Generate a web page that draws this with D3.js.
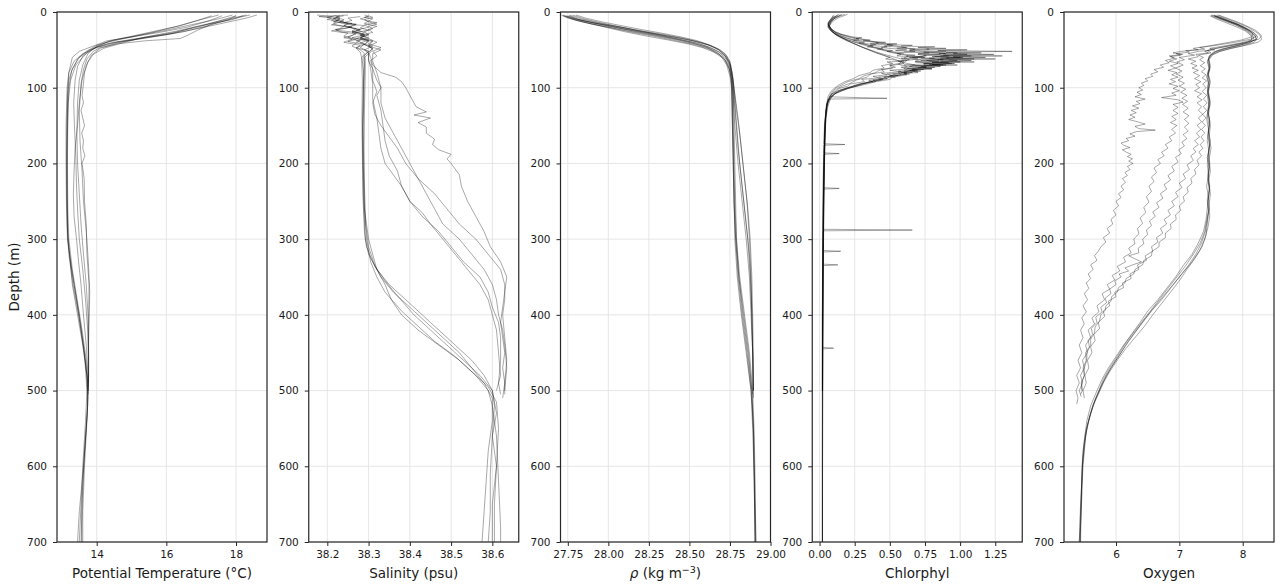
<!DOCTYPE html>
<html>
<head>
<meta charset="utf-8">
<script src="https://cdn.jsdelivr.net/npm/d3@7"></script>
<style>
  body { margin: 0; background: #fff; }
  text { font-family: "DejaVu Sans", sans-serif; fill: #1a1a1a; }
</style>
</head>
<body>
<svg id="chart" width="1285" height="585"></svg>
<script>
// ---- CTD cast profiles: each profile is a list of [depth (m), value] ----
const depthTicks = [0, 100, 200, 300, 400, 500, 600, 700];

const tempTicks = [14, 16, 18];
const tempProfiles = [
  [[4,18.6],[8,18.3],[15,17.6],[22,16.9],[30,16.0],[36,15.0],[42,14.3],[50,13.8],[60,13.5],[75,13.3],[90,13.2],[110,13.17],[150,13.15],[200,13.14],[250,13.15],[300,13.17],[330,13.25],[360,13.35],[400,13.5],[440,13.62],[480,13.72],[510,13.75],[550,13.7],[600,13.63],[650,13.58],[700,13.55]],
  [[5,18.0],[10,17.8],[18,17.2],[26,16.5],[33,15.6],[40,14.6],[47,14.0],[55,13.6],[65,13.35],[80,13.2],[100,13.15],[150,13.12],[200,13.12],[250,13.13],[300,13.16],[340,13.28],[380,13.42],[420,13.55],[460,13.66],[500,13.72],[540,13.68],[600,13.6],[650,13.55],[700,13.5]],
  [[4,18.3],[10,17.7],[20,16.8],[28,16.2],[35,15.3],[40,14.5],[46,14.0],[55,13.7],[70,13.4],[90,13.25],[120,13.18],[180,13.15],[240,13.15],[290,13.17],[320,13.22],[360,13.3],[400,13.45],[440,13.6],[480,13.72],[520,13.74],[580,13.65],[640,13.58],[700,13.57]],
  [[5,17.6],[12,17.2],[20,16.6],[27,15.8],[33,15.0],[38,14.3],[45,13.9],[52,13.5],[60,13.3],[80,13.2],[110,13.16],[160,13.14],[220,13.14],[280,13.15],[320,13.2],[360,13.32],[400,13.48],[450,13.65],[490,13.74],[530,13.73],[600,13.62],[660,13.5],[700,13.45]],
  [[4,17.9],[9,17.5],[17,16.7],[24,16.0],[31,15.2],[37,14.5],[44,14.0],[52,13.7],[62,13.45],[78,13.28],[100,13.2],[140,13.17],[200,13.16],[260,13.17],[300,13.2],[340,13.3],[380,13.44],[420,13.58],[460,13.7],[500,13.76],[540,13.72],[600,13.65],[660,13.6],[700,13.6]],
  [[5,18.2],[10,17.9],[18,17.0],[26,16.2],[33,15.4],[40,14.8],[48,14.2],[56,13.9],[66,13.75],[80,13.65],[95,13.62],[110,13.58],[120,13.62],[130,13.55],[140,13.6],[150,13.65],[160,13.57],[170,13.62],[180,13.6],[190,13.66],[200,13.58],[220,13.64],[250,13.65],[280,13.7],[320,13.72],[360,13.78],[400,13.77],[440,13.76],[480,13.77],[500,13.75]],
  [[4,17.5],[10,17.0],[18,16.4],[25,15.7],[32,15.0],[38,14.4],[45,14.0],[55,13.75],[70,13.6],[90,13.5],[120,13.45],[160,13.43],[200,13.45],[240,13.5],[280,13.55],[320,13.62],[360,13.7],[400,13.75],[450,13.77],[495,13.76]],
  [[5,18.0],[12,17.5],[20,16.9],[28,16.1],[34,15.3],[41,14.6],[48,14.1],[57,13.85],[70,13.7],[90,13.58],[120,13.5],[150,13.45],[180,13.38],[210,13.35],[240,13.33],[270,13.35],[300,13.42],[330,13.48],[360,13.55],[400,13.62],[440,13.7],[480,13.75],[505,13.76]],
  [[4,18.4],[9,17.9],[16,17.3],[24,16.9],[31,16.6],[35,16.4],[38,15.4],[42,14.6],[47,14.1],[52,13.9],[62,13.72],[76,13.62],[95,13.55],[130,13.5],[170,13.52],[210,13.58],[250,13.62],[290,13.7],[330,13.76],[370,13.8],[410,13.78],[450,13.76],[490,13.76]],
  [[5,17.3],[11,16.9],[19,16.3],[27,15.6],[34,14.9],[40,14.3],[48,13.9],[58,13.6],[72,13.45],[90,13.38],[120,13.34],[150,13.36],[190,13.4],[230,13.42],[260,13.45],[300,13.5],[340,13.6],[380,13.68],[420,13.74],[460,13.77],[500,13.76]]
];

const salTicks = [38.2, 38.3, 38.4, 38.5, 38.6];
const salProfiles = [
  [[5,38.22],[7,38.2],[10,38.23],[13,38.215],[15,38.26],[18,38.24],[21,38.25],[24,38.22],[27,38.27],[31,38.26],[34,38.24],[38,38.28],[41,38.27],[45,38.26],[50,38.28],[55,38.29],[60,38.284],[80,38.288],[120,38.287],[160,38.285],[200,38.286],[250,38.288],[300,38.292],[320,38.3],[340,38.32],[360,38.35],[380,38.39],[400,38.43],[420,38.47],[440,38.51],[460,38.55],[480,38.58],[500,38.6],[530,38.61],[560,38.6],[600,38.61],[650,38.6],[700,38.6]],
  [[4,38.25],[6,38.18],[8,38.21],[10,38.2],[12,38.24],[15,38.22],[17,38.21],[20,38.26],[23,38.22],[26,38.23],[29,38.27],[33,38.25],[36,38.26],[40,38.24],[44,38.28],[48,38.27],[53,38.28],[60,38.283],[90,38.285],[140,38.284],[190,38.285],[240,38.286],[290,38.29],[310,38.295],[330,38.31],[350,38.33],[370,38.36],[390,38.4],[410,38.44],[430,38.48],[450,38.52],[470,38.55],[490,38.58],[510,38.6],[540,38.6],[580,38.59],[620,38.585],[660,38.58],[700,38.575]],
  [[5,38.3],[7,38.29],[9,38.31],[12,38.3],[14,38.32],[17,38.29],[20,38.3],[24,38.27],[27,38.29],[30,38.28],[34,38.3],[38,38.27],[42,38.29],[47,38.28],[52,38.3],[58,38.288],[70,38.29],[100,38.289],[150,38.287],[200,38.288],[260,38.29],[300,38.295],[330,38.305],[350,38.32],[370,38.34],[395,38.38],[415,38.42],[435,38.46],[455,38.51],[475,38.55],[495,38.59],[515,38.61],[550,38.615],[600,38.61],[650,38.605],[700,38.605]],
  [[4,38.175],[6,38.21],[8,38.22],[11,38.21],[13,38.22],[16,38.215],[19,38.24],[22,38.23],[25,38.21],[28,38.25],[32,38.24],[36,38.27],[39,38.25],[43,38.29],[47,38.27],[52,38.3],[57,38.29],[62,38.292],[80,38.292],[130,38.29],[180,38.289],[230,38.29],[280,38.293],[310,38.3],[335,38.315],[355,38.34],[375,38.37],[400,38.41],[420,38.45],[440,38.49],[460,38.53],[480,38.57],[500,38.6],[520,38.605],[560,38.6],[610,38.595],[660,38.595],[700,38.59]],
  [[5,38.24],[7,38.22],[9,38.23],[12,38.22],[15,38.235],[18,38.29],[21,38.28],[24,38.3],[27,38.27],[30,38.29],[34,38.26],[37,38.3],[41,38.28],[45,38.31],[50,38.29],[55,38.3],[60,38.29],[90,38.288],[140,38.286],[200,38.287],[260,38.29],[300,38.3],[320,38.31],[340,38.32],[360,38.34],[380,38.355],[400,38.38],[420,38.42],[440,38.47],[460,38.52],[480,38.56],[500,38.59],[520,38.6],[560,38.61],[620,38.615],[680,38.62],[700,38.62]],
  [[5,38.3],[7,38.31],[10,38.29],[13,38.3],[16,38.32],[19,38.3],[22,38.31],[26,38.29],[30,38.3],[34,38.28],[38,38.3],[43,38.29],[48,38.31],[54,38.3],[60,38.305],[70,38.31],[80,38.33],[86,38.365],[92,38.38],[100,38.39],[110,38.4],[125,38.415],[132,38.44],[136,38.41],[140,38.45],[146,38.42],[152,38.44],[160,38.44],[168,38.46],[175,38.455],[182,38.47],[188,38.5],[194,38.49],[200,38.5],[215,38.52],[230,38.525],[250,38.54],[270,38.56],[290,38.58],[310,38.595],[330,38.62],[350,38.635],[370,38.63],[390,38.625],[410,38.62],[430,38.625],[450,38.63],[470,38.625],[490,38.63],[505,38.63]],
  [[5,38.22],[7,38.23],[9,38.215],[12,38.23],[15,38.25],[18,38.24],[22,38.27],[25,38.26],[28,38.28],[31,38.29],[35,38.27],[39,38.3],[43,38.29],[48,38.31],[53,38.3],[60,38.3],[65,38.3],[75,38.31],[90,38.31],[105,38.32],[120,38.31],[135,38.315],[150,38.33],[165,38.35],[180,38.37],[200,38.39],[220,38.42],[240,38.46],[260,38.49],[280,38.52],[300,38.56],[320,38.59],[340,38.62],[360,38.63],[380,38.63],[400,38.625],[430,38.63],[460,38.635],[490,38.63],[510,38.625]],
  [[6,38.28],[8,38.25],[11,38.26],[14,38.24],[17,38.27],[20,38.25],[24,38.28],[27,38.26],[31,38.29],[35,38.28],[39,38.31],[44,38.3],[50,38.31],[56,38.3],[62,38.3],[75,38.305],[95,38.31],[115,38.31],[140,38.32],[160,38.325],[180,38.33],[200,38.34],[215,38.36],[230,38.38],[250,38.4],[265,38.43],[280,38.45],[300,38.48],[320,38.51],[340,38.54],[360,38.57],[380,38.59],[400,38.6],[420,38.61],[450,38.615],[480,38.62],[500,38.61]],
  [[5,38.23],[7,38.22],[10,38.24],[13,38.23],[16,38.27],[20,38.25],[23,38.28],[26,38.26],[30,38.3],[34,38.28],[38,38.31],[42,38.3],[47,38.33],[52,38.31],[58,38.32],[64,38.305],[75,38.31],[90,38.32],[100,38.33],[110,38.32],[130,38.33],[150,38.335],[170,38.34],[190,38.35],[210,38.37],[230,38.38],[250,38.4],[270,38.43],[290,38.47],[310,38.5],[330,38.53],[350,38.57],[370,38.59],[390,38.6],[410,38.615],[430,38.62],[460,38.62],[490,38.615],[505,38.62]],
  [[4,38.29],[6,38.3],[9,38.28],[12,38.3],[15,38.29],[19,38.32],[23,38.3],[27,38.31],[31,38.28],[35,38.3],[40,38.32],[45,38.3],[50,38.33],[55,38.31],[62,38.31],[65,38.31],[80,38.32],[100,38.33],[120,38.33],[140,38.34],[160,38.36],[180,38.38],[200,38.4],[220,38.42],[240,38.44],[260,38.46],[280,38.48],[300,38.52],[320,38.55],[340,38.58],[360,38.6],[380,38.61],[400,38.615],[420,38.625],[440,38.63],[470,38.635],[500,38.63]]
];

const rhoTicks = [27.75, 28.0, 28.25, 28.5, 28.75, 29.0];
const rhoProfiles = [
  [[4,27.72],[8,27.77],[12,27.86],[16,27.96],[20,28.08],[25,28.21],[30,28.35],[35,28.47],[40,28.57],[45,28.64],[50,28.69],[58,28.73],[70,28.755],[85,28.765],[100,28.77],[150,28.775],[200,28.78],[250,28.785],[300,28.79],[350,28.805],[400,28.83],[450,28.86],[500,28.885],[550,28.895],[600,28.9],[650,28.905],[700,28.91]],
  [[5,27.75],[9,27.8],[13,27.88],[18,28.0],[23,28.12],[28,28.26],[33,28.4],[38,28.52],[43,28.61],[48,28.67],[55,28.72],[65,28.75],[80,28.76],[100,28.765],[150,28.77],[200,28.775],[250,28.78],[300,28.79],[350,28.81],[400,28.84],[450,28.87],[500,28.89],[560,28.9],[620,28.905],[700,28.91]],
  [[4,27.76],[9,27.83],[14,27.93],[19,28.05],[24,28.17],[29,28.3],[34,28.43],[39,28.54],[44,28.62],[50,28.68],[57,28.72],[66,28.745],[80,28.755],[100,28.76],[150,28.765],[200,28.77],[250,28.775],[300,28.785],[350,28.8],[400,28.825],[450,28.855],[500,28.88],[550,28.895],[620,28.9],[700,28.905]],
  [[5,27.73],[10,27.79],[15,27.88],[20,27.98],[26,28.1],[32,28.24],[37,28.37],[42,28.49],[47,28.58],[53,28.65],[60,28.7],[70,28.73],[85,28.75],[100,28.76],[150,28.765],[200,28.77],[250,28.775],[300,28.785],[350,28.805],[400,28.835],[450,28.865],[500,28.885],[560,28.895],[630,28.9],[700,28.905]],
  [[4,27.71],[8,27.75],[13,27.84],[18,27.95],[23,28.07],[28,28.2],[33,28.33],[38,28.45],[43,28.55],[48,28.62],[55,28.68],[63,28.72],[75,28.745],[90,28.76],[120,28.765],[180,28.77],[240,28.775],[300,28.78],[350,28.795],[400,28.82],[450,28.85],[500,28.88],[550,28.89],[620,28.9],[700,28.905]],
  [[5,27.74],[10,27.81],[15,27.91],[20,28.03],[25,28.16],[30,28.29],[35,28.41],[40,28.52],[45,28.6],[51,28.67],[58,28.72],[68,28.75],[80,28.765],[100,28.775],[130,28.79],[160,28.81],[200,28.83],[250,28.855],[300,28.87],[350,28.88],[400,28.885],[450,28.89],[500,28.895]],
  [[4,27.78],[9,27.85],[14,27.95],[19,28.06],[25,28.19],[30,28.31],[36,28.44],[41,28.55],[47,28.63],[53,28.68],[60,28.72],[72,28.75],[90,28.77],[120,28.78],[160,28.795],[200,28.81],[240,28.83],[280,28.85],[320,28.87],[360,28.88],[400,28.885],[450,28.89],[505,28.89]],
  [[5,27.72],[11,27.8],[16,27.9],[21,28.02],[27,28.15],[32,28.28],[38,28.42],[43,28.53],[49,28.62],[56,28.68],[64,28.72],[75,28.745],[90,28.76],[110,28.77],[150,28.78],[200,28.8],[250,28.825],[300,28.85],[350,28.87],[400,28.88],[450,28.89],[500,28.895]],
  [[4,27.8],[8,27.86],[13,27.96],[18,28.08],[23,28.2],[28,28.33],[33,28.45],[38,28.55],[44,28.63],[50,28.68],[58,28.72],[70,28.75],[85,28.765],[100,28.775],[140,28.8],[180,28.82],[220,28.84],[260,28.86],[300,28.875],[350,28.885],[400,28.89],[460,28.895],[500,28.895]],
  [[5,27.76],[10,27.82],[15,27.92],[20,28.04],[26,28.17],[31,28.3],[36,28.42],[41,28.52],[46,28.6],[52,28.66],[60,28.71],[70,28.74],[85,28.76],[100,28.77],[140,28.785],[180,28.8],[220,28.82],[260,28.84],[300,28.86],[350,28.875],[400,28.885],[450,28.89],[510,28.895]]
];

const chlTicks = [0, 0.25, 0.5, 0.75, 1.0, 1.25];
const chlProfiles = [
  [[3,0.14],[7,0.1],[12,0.07],[17,0.06],[22,0.08],[26,0.11],[29,0.15],[31,0.19],[33,0.24],[34,0.3],[35,0.26],[37,0.36],[38,0.31],[40,0.47],[41,0.4],[42,0.55],[43,0.48],[44,0.66],[45,0.58],[46,0.82],[47,0.7],[48,0.9],[49,0.76],[50,1.05],[51,0.84],[52,1.37],[53,0.9],[54,1.15],[55,0.95],[56,1.24],[57,0.86],[58,1.08],[59,0.82],[60,1.0],[61,0.78],[62,0.92],[64,0.72],[65,0.85],[66,0.68],[68,0.8],[70,0.6],[71,0.72],[73,0.58],[75,0.64],[77,0.5],[79,0.58],[81,0.44],[83,0.48],[85,0.38],[87,0.42],[89,0.3],[92,0.32],[95,0.22],[98,0.2],[101,0.14],[104,0.12],[108,0.09],[114,0.07],[122,0.05],[135,0.045],[150,0.035],[174,0.03],[175,0.18],[176,0.03],[230,0.025],[300,0.022],[400,0.02],[500,0.02],[600,0.02],[700,0.02]],
  [[4,0.1],[9,0.08],[14,0.06],[19,0.07],[24,0.09],[28,0.12],[31,0.17],[34,0.22],[36,0.28],[37,0.24],[39,0.35],[41,0.42],[42,0.36],[44,0.52],[45,0.46],[47,0.62],[48,0.55],[49,0.78],[50,0.64],[51,0.72],[52,0.9],[53,0.74],[54,0.98],[55,0.85],[56,1.05],[57,0.88],[58,1.3],[59,0.95],[60,1.18],[61,0.9],[62,1.1],[63,0.84],[64,0.98],[66,0.78],[67,0.92],[68,0.74],[70,0.86],[71,0.68],[73,0.76],[74,0.62],[76,0.7],[78,0.56],[80,0.62],[82,0.48],[84,0.52],[86,0.42],[88,0.45],[90,0.35],[92,0.38],[95,0.28],[98,0.24],[101,0.18],[104,0.13],[108,0.09],[112,0.07],[120,0.055],[140,0.04],[160,0.035],[186,0.03],[187,0.14],[188,0.03],[250,0.025],[320,0.022],[400,0.02],[500,0.02]],
  [[3,0.18],[7,0.12],[12,0.08],[18,0.06],[23,0.07],[27,0.1],[31,0.14],[35,0.2],[38,0.27],[40,0.32],[41,0.28],[43,0.4],[44,0.36],[46,0.48],[47,0.44],[49,0.56],[50,0.62],[51,0.54],[52,0.68],[53,0.6],[54,0.78],[55,0.7],[56,0.86],[57,0.74],[58,0.92],[59,0.8],[60,1.02],[61,0.86],[62,1.25],[63,0.92],[64,1.08],[65,0.86],[66,1.0],[67,0.8],[68,0.94],[69,0.78],[70,0.88],[72,0.72],[73,0.82],[75,0.66],[76,0.74],[78,0.6],[80,0.66],[82,0.52],[84,0.56],[86,0.46],[88,0.48],[90,0.38],[92,0.4],[95,0.3],[98,0.26],[101,0.2],[104,0.16],[107,0.12],[112,0.08],[118,0.06],[130,0.045],[150,0.04],[180,0.035],[232,0.028],[233,0.14],[234,0.028],[300,0.024],[400,0.022],[500,0.02],[600,0.02],[700,0.021]],
  [[5,0.12],[10,0.09],[15,0.07],[20,0.06],[25,0.08],[29,0.11],[33,0.15],[37,0.2],[40,0.26],[43,0.32],[45,0.38],[46,0.34],[48,0.45],[49,0.41],[51,0.52],[52,0.48],[54,0.6],[55,0.55],[57,0.68],[58,0.62],[59,0.74],[60,0.66],[61,0.82],[62,0.72],[63,0.88],[64,0.76],[65,0.92],[66,1.1],[67,0.8],[68,0.96],[69,0.8],[70,0.9],[71,0.74],[72,0.86],[74,0.7],[75,0.8],[77,0.64],[78,0.72],[80,0.58],[82,0.64],[84,0.5],[86,0.54],[88,0.42],[90,0.44],[92,0.36],[95,0.3],[98,0.24],[101,0.19],[104,0.14],[109,0.1],[115,0.07],[125,0.05],[145,0.04],[170,0.035],[220,0.03],[287,0.025],[288,0.66],[289,0.025],[350,0.022],[420,0.02],[500,0.02]],
  [[4,0.15],[9,0.1],[14,0.08],[19,0.07],[24,0.09],[28,0.12],[32,0.16],[36,0.22],[40,0.28],[44,0.35],[48,0.42],[52,0.5],[55,0.57],[58,0.63],[61,0.6],[63,0.72],[65,0.68],[67,0.78],[69,0.74],[70,0.98],[71,0.72],[73,0.76],[75,0.64],[77,0.68],[80,0.56],[83,0.58],[86,0.46],[89,0.45],[92,0.36],[96,0.3],[100,0.22],[104,0.16],[108,0.11],[114,0.08],[124,0.06],[140,0.045],[160,0.04],[200,0.035],[260,0.03],[315,0.028],[316,0.15],[317,0.028],[400,0.024],[500,0.022],[600,0.021],[700,0.02]],
  [[3,0.2],[8,0.13],[13,0.09],[18,0.07],[22,0.08],[26,0.11],[30,0.16],[33,0.22],[36,0.3],[39,0.38],[42,0.46],[45,0.55],[47,0.6],[49,0.68],[51,0.64],[53,0.78],[55,0.9],[56,0.7],[58,0.76],[60,0.64],[62,0.7],[65,0.58],[68,0.6],[71,0.5],[74,0.52],[77,0.42],[80,0.4],[84,0.32],[88,0.28],[92,0.2],[96,0.16],[100,0.12],[105,0.09],[112,0.07],[114,0.48],[115,0.06],[125,0.05],[145,0.04],[180,0.035],[240,0.03],[333,0.026],[334,0.13],[335,0.026],[420,0.022],[500,0.021]],
  [[5,0.11],[10,0.08],[16,0.06],[21,0.07],[26,0.09],[30,0.12],[34,0.16],[38,0.2],[42,0.25],[46,0.3],[50,0.36],[54,0.42],[58,0.5],[61,0.56],[64,0.62],[67,0.6],[70,0.68],[72,0.64],[75,0.8],[76,0.66],[78,0.7],[80,0.6],[82,0.62],[85,0.5],[88,0.48],[91,0.38],[94,0.32],[97,0.25],[100,0.2],[104,0.14],[108,0.1],[114,0.07],[122,0.055],[135,0.045],[155,0.04],[190,0.035],[250,0.03],[320,0.026],[400,0.024],[443,0.022],[444,0.1],[445,0.022],[520,0.021],[600,0.02],[700,0.02]],
  [[4,0.13],[9,0.09],[14,0.07],[19,0.06],[24,0.08],[28,0.1],[32,0.14],[36,0.19],[40,0.25],[44,0.32],[48,0.4],[51,0.46],[54,0.52],[56,0.58],[58,0.55],[60,0.75],[61,0.58],[63,0.64],[65,0.56],[67,0.6],[70,0.5],[73,0.54],[76,0.44],[79,0.46],[82,0.36],[86,0.34],[90,0.26],[94,0.22],[98,0.16],[102,0.12],[107,0.09],[113,0.07],[122,0.05],[140,0.04],[170,0.035],[210,0.03],[260,0.027],[330,0.024],[420,0.022],[500,0.021]],
  [[3,0.16],[8,0.11],[13,0.08],[18,0.07],[23,0.08],[28,0.1],[32,0.13],[36,0.17],[40,0.22],[44,0.27],[48,0.32],[52,0.38],[56,0.44],[60,0.5],[63,0.54],[66,0.58],[69,0.56],[72,0.62],[75,0.6],[78,0.66],[80,0.7],[81,0.6],[83,0.62],[86,0.52],[89,0.5],[92,0.4],[95,0.34],[98,0.27],[101,0.2],[104,0.15],[108,0.11],[113,0.08],[120,0.06],[132,0.05],[150,0.042],[180,0.037],[230,0.032],[300,0.028],[380,0.025],[460,0.023],[560,0.022],[640,0.021],[700,0.021]],
  [[5,0.1],[10,0.08],[15,0.06],[20,0.07],[25,0.09],[30,0.12],[34,0.16],[38,0.2],[42,0.25],[46,0.3],[50,0.35],[54,0.4],[57,0.45],[60,0.5],[62,0.47],[65,0.6],[66,0.48],[68,0.52],[71,0.44],[74,0.46],[77,0.38],[80,0.36],[84,0.28],[88,0.24],[92,0.18],[96,0.14],[100,0.11],[105,0.08],[112,0.06],[122,0.05],[140,0.042],[170,0.036],[210,0.032],[270,0.028],[340,0.025],[420,0.023],[500,0.022]]
];

const oxyTicks = [6, 7, 8];
const oxyProfiles = [
  [[4,7.55],[8,7.68],[12,7.8],[16,7.92],[20,8.02],[24,8.1],[28,8.16],[32,8.2],[36,8.22],[40,8.18],[44,8.02],[48,7.82],[52,7.64],[56,7.52],[62,7.46],[70,7.48],[80,7.45],[90,7.47],[100,7.44],[115,7.47],[130,7.45],[145,7.48],[160,7.46],[175,7.48],[190,7.45],[205,7.47],[220,7.46],[235,7.48],[250,7.45],[265,7.46],[280,7.44],[295,7.42],[310,7.36],[325,7.25],[340,7.12],[355,7.0],[370,6.86],[385,6.72],[400,6.58],[415,6.45],[430,6.3],[445,6.15],[460,6.02],[475,5.9],[490,5.8],[505,5.72],[520,5.64],[540,5.57],[560,5.52],[580,5.5],[600,5.48],[630,5.46],[660,5.45],[700,5.43]],
  [[5,7.5],[9,7.62],[13,7.75],[17,7.88],[21,7.98],[25,8.06],[29,8.12],[33,8.16],[37,8.18],[41,8.1],[45,7.9],[49,7.7],[53,7.56],[58,7.48],[65,7.44],[75,7.47],[85,7.43],[95,7.46],[110,7.44],[125,7.47],[140,7.43],[155,7.46],[170,7.44],[185,7.47],[200,7.44],[215,7.46],[230,7.43],[245,7.46],[260,7.44],[275,7.42],[290,7.38],[305,7.3],[320,7.2],[335,7.06],[350,6.94],[365,6.8],[380,6.66],[395,6.5],[410,6.38],[425,6.25],[440,6.12],[455,6.0],[470,5.88],[485,5.78],[500,5.7],[520,5.6],[540,5.54],[565,5.5],[590,5.47],[620,5.46],[650,5.44],[680,5.43],[700,5.42]],
  [[4,7.6],[8,7.72],[12,7.85],[16,7.97],[20,8.08],[24,8.16],[28,8.24],[32,8.28],[36,8.3],[40,8.24],[44,8.05],[48,7.82],[52,7.64],[57,7.52],[63,7.47],[72,7.49],[82,7.46],[92,7.49],[105,7.46],[120,7.49],[135,7.46],[150,7.49],[165,7.47],[180,7.5],[195,7.47],[210,7.49],[225,7.46],[240,7.49],[255,7.47],[270,7.48],[285,7.45],[300,7.4],[315,7.32],[330,7.2],[345,7.05],[360,6.9],[375,6.75],[390,6.6],[405,6.46],[420,6.33],[435,6.2],[450,6.08],[465,5.96],[480,5.85],[495,5.76],[510,5.68],[530,5.6],[550,5.54],[575,5.5],[600,5.47],[640,5.46],[680,5.44],[700,5.44]],
  [[5,7.48],[9,7.58],[13,7.7],[17,7.82],[21,7.94],[25,8.04],[29,8.1],[33,8.14],[37,8.14],[41,8.04],[45,7.86],[49,7.66],[53,7.54],[58,7.47],[66,7.45],[76,7.48],[86,7.44],[96,7.47],[108,7.45],[122,7.48],[136,7.44],[150,7.47],[164,7.45],[178,7.48],[192,7.44],[206,7.47],[220,7.45],[234,7.47],[248,7.44],[262,7.46],[276,7.43],[290,7.4],[305,7.33],[320,7.22],[335,7.1],[350,6.96],[365,6.82],[380,6.68],[395,6.54],[410,6.4],[425,6.26],[440,6.13],[455,6.02],[470,5.9],[485,5.8],[500,5.73],[520,5.63],[545,5.55],[570,5.5],[600,5.47],[640,5.45],[680,5.43],[700,5.42]],
  [[4,7.52],[8,7.64],[12,7.77],[16,7.9],[20,8.0],[24,8.09],[28,8.15],[32,8.2],[36,8.21],[40,8.12],[44,7.94],[48,7.74],[52,7.58],[57,7.49],[64,7.46],[73,7.48],[83,7.45],[93,7.48],[105,7.45],[118,7.48],[131,7.45],[144,7.48],[157,7.46],[170,7.49],[185,7.46],[200,7.48],[215,7.45],[230,7.48],[245,7.46],[260,7.47],[275,7.44],[290,7.41],[305,7.35],[320,7.26],[335,7.14],[350,7.0],[365,6.86],[380,6.72],[395,6.56],[410,6.42],[425,6.28],[440,6.15],[455,6.04],[470,5.92],[485,5.82],[500,5.74],[515,5.66],[535,5.58],[555,5.52],[580,5.48],[610,5.46],[650,5.45],[700,5.44]],
  [[5,7.55],[9,7.68],[13,7.8],[17,7.92],[21,8.02],[25,8.1],[29,8.16],[33,8.14],[37,7.98],[41,7.72],[45,7.45],[48,7.22],[50,7.3],[52,7.02],[54,6.9],[56,7.05],[58,6.84],[61,6.92],[64,6.78],[67,6.84],[70,6.7],[73,6.75],[76,6.6],[79,6.66],[82,6.55],[85,6.58],[88,6.46],[91,6.5],[94,6.4],[97,6.44],[100,6.36],[103,6.42],[106,6.33],[109,6.4],[112,6.3],[115,6.46],[118,6.32],[121,6.38],[124,6.26],[127,6.36],[130,6.24],[133,6.32],[136,6.22],[139,6.3],[142,6.2],[145,6.34],[148,6.46],[151,6.3],[154,6.36],[156,6.62],[158,6.32],[161,6.22],[164,6.3],[167,6.16],[170,6.2],[173,6.08],[176,6.12],[179,6.22],[182,6.1],[185,6.16],[188,6.24],[191,6.18],[194,6.26],[197,6.2],[200,6.27],[204,6.18],[208,6.22],[212,6.14],[216,6.18],[220,6.1],[225,6.15],[230,6.08],[235,6.12],[240,6.04],[245,6.08],[250,6.0],[256,6.04],[262,5.96],[268,6.0],[274,5.92],[280,5.95],[286,5.86],[292,5.9],[298,5.8],[304,5.84],[310,5.76],[316,5.72],[322,5.66],[328,5.7],[334,5.6],[340,5.64],[346,5.56],[352,5.6],[358,5.53],[365,5.57],[372,5.5],[380,5.55],[388,5.48],[396,5.53],[404,5.46],[412,5.5],[420,5.44],[430,5.48],[440,5.42],[450,5.46],[460,5.4],[470,5.44],[480,5.38],[490,5.42],[500,5.37],[510,5.4],[518,5.38]],
  [[4,7.5],[8,7.62],[12,7.76],[16,7.9],[20,8.0],[24,8.1],[28,8.18],[32,8.22],[36,8.12],[40,7.88],[44,7.58],[47,7.32],[49,7.4],[51,7.1],[53,7.16],[55,6.95],[57,7.02],[59,6.86],[62,6.96],[65,6.84],[68,6.98],[71,6.86],[74,6.94],[77,6.82],[80,6.96],[83,6.88],[86,6.98],[89,6.86],[92,6.94],[95,6.84],[98,6.98],[101,6.9],[104,7.0],[107,6.88],[110,6.95],[113,6.72],[116,6.98],[119,7.06],[122,6.9],[126,6.98],[130,6.9],[134,6.98],[138,6.88],[142,6.95],[146,6.86],[150,6.96],[155,6.88],[160,6.94],[165,6.84],[170,6.88],[175,6.78],[180,6.82],[185,6.72],[190,6.76],[195,6.66],[200,6.7],[206,6.6],[212,6.64],[218,6.56],[224,6.6],[230,6.52],[237,6.56],[244,6.48],[251,6.52],[258,6.44],[265,6.47],[272,6.38],[279,6.42],[286,6.34],[293,6.36],[300,6.28],[306,6.3],[312,6.2],[318,6.24],[324,6.12],[330,6.15],[336,6.02],[342,6.06],[348,5.94],[354,5.98],[360,5.86],[366,5.9],[372,5.78],[380,5.82],[388,5.7],[396,5.73],[404,5.62],[412,5.66],[420,5.56],[430,5.6],[440,5.52],[450,5.55],[460,5.47],[470,5.5],[480,5.44],[490,5.47],[500,5.42],[508,5.45]],
  [[5,7.58],[9,7.7],[13,7.83],[17,7.95],[21,8.05],[25,8.14],[29,8.2],[33,8.24],[37,8.2],[41,8.02],[45,7.78],[49,7.52],[52,7.4],[54,7.46],[56,7.26],[59,7.3],[62,7.14],[65,7.26],[68,7.18],[71,7.28],[74,7.2],[77,7.3],[80,7.22],[84,7.32],[88,7.24],[92,7.34],[96,7.26],[100,7.32],[104,7.24],[108,7.35],[112,7.28],[116,7.36],[120,7.28],[125,7.35],[130,7.3],[135,7.37],[140,7.3],[145,7.35],[150,7.28],[155,7.34],[160,7.27],[165,7.32],[170,7.24],[175,7.3],[180,7.22],[185,7.26],[190,7.18],[196,7.22],[202,7.12],[208,7.16],[214,7.06],[220,7.1],[226,7.0],[232,7.04],[238,6.94],[244,6.98],[250,6.88],[256,6.92],[262,6.82],[268,6.86],[274,6.76],[280,6.8],[286,6.7],[292,6.74],[298,6.64],[304,6.66],[310,6.56],[316,6.58],[322,6.46],[328,6.48],[334,6.34],[340,6.36],[346,6.22],[352,6.24],[358,6.1],[364,6.12],[370,5.98],[376,6.0],[382,5.88],[388,5.9],[395,5.8],[402,5.82],[410,5.72],[418,5.74],[426,5.65],[434,5.67],[442,5.6],[450,5.62],[460,5.55],[470,5.57],[480,5.51],[490,5.53],[500,5.48],[510,5.5]],
  [[4,7.62],[8,7.75],[12,7.88],[16,8.0],[20,8.1],[24,8.2],[28,8.26],[32,8.3],[36,8.25],[40,8.06],[44,7.82],[48,7.58],[51,7.44],[54,7.5],[57,7.3],[60,7.38],[63,7.32],[67,7.4],[71,7.33],[75,7.41],[79,7.35],[83,7.42],[87,7.36],[91,7.43],[95,7.37],[100,7.42],[105,7.36],[110,7.43],[115,7.38],[120,7.44],[125,7.38],[130,7.43],[135,7.37],[140,7.42],[145,7.36],[150,7.41],[155,7.35],[160,7.4],[165,7.34],[170,7.39],[175,7.33],[180,7.37],[185,7.31],[190,7.35],[196,7.28],[202,7.31],[208,7.24],[214,7.26],[220,7.18],[226,7.2],[232,7.12],[238,7.14],[244,7.06],[250,7.08],[256,7.0],[262,7.02],[268,6.94],[274,6.95],[280,6.86],[286,6.87],[292,6.78],[298,6.78],[304,6.68],[310,6.68],[316,6.57],[322,6.56],[328,6.44],[334,6.42],[340,6.3],[346,6.28],[352,6.16],[358,6.14],[364,6.04],[370,6.02],[376,5.93],[382,5.92],[388,5.84],[394,5.83],[400,5.76],[408,5.74],[416,5.67],[424,5.66],[432,5.6],[440,5.6],[450,5.54],[460,5.54],[470,5.5],[480,5.5],[490,5.46],[500,5.46]],
  [[5,7.55],[9,7.66],[13,7.78],[17,7.9],[21,8.0],[25,8.08],[29,8.14],[33,8.18],[37,8.14],[41,7.96],[45,7.7],[48,7.48],[50,7.56],[52,7.3],[55,7.14],[57,7.24],[60,7.0],[63,7.08],[66,6.96],[70,7.06],[74,6.94],[78,7.04],[82,6.95],[86,7.06],[90,6.98],[94,7.08],[98,7.0],[102,7.1],[106,7.02],[110,7.12],[114,7.04],[118,7.13],[122,7.05],[127,7.14],[132,7.06],[137,7.15],[142,7.08],[147,7.15],[152,7.08],[157,7.14],[162,7.06],[167,7.12],[172,7.04],[177,7.08],[182,6.99],[187,7.03],[192,6.94],[198,6.98],[204,6.88],[210,6.92],[216,6.82],[222,6.86],[228,6.76],[234,6.8],[240,6.7],[246,6.74],[252,6.64],[258,6.68],[264,6.58],[270,6.62],[276,6.53],[282,6.56],[288,6.48],[294,6.5],[300,6.42],[306,6.44],[312,6.35],[318,6.36],[322,6.2],[326,6.3],[330,6.4],[334,6.26],[338,6.14],[342,6.2],[346,6.05],[350,6.08],[355,5.98],[360,6.0],[366,5.9],[372,5.92],[378,5.83],[384,5.85],[390,5.76],[396,5.78],[403,5.68],[410,5.7],[418,5.61],[426,5.63],[434,5.56],[442,5.58],[450,5.52],[460,5.53],[470,5.48],[480,5.5],[490,5.45],[500,5.47],[505,5.44]]
];

// ---- layout ----
const svg = d3.select("#chart");
const plotTop = 12, plotBottom = 542;
const panelW = 210, firstLeft = 57, step = 251.75;

const y = d3.scaleLinear().domain([0, 700]).range([plotTop, plotBottom]);

const panels = [
  { profiles: tempProfiles, domain: [12.86, 18.89], ticks: tempTicks, fmt: d3.format("d"), label: "temp" },
  { profiles: salProfiles, domain: [38.155, 38.664], ticks: salTicks, fmt: d3.format(".1f"), label: "sal" },
  { profiles: rhoProfiles, domain: [27.705, 29.0], ticks: rhoTicks, fmt: d3.format(".2f"), label: "rho" },
  { profiles: chlProfiles, domain: [-0.052, 1.442], ticks: chlTicks, fmt: d3.format(".2f"), label: "chl" },
  { profiles: oxyProfiles, domain: [5.179, 8.494], ticks: oxyTicks, fmt: d3.format("d"), label: "oxy" }
];

const defs = svg.append("defs");

panels.forEach((p, i) => {
  const left = firstLeft + i * step;
  const x = d3.scaleLinear().domain(p.domain).range([left, left + panelW]);
  const g = svg.append("g");

  // grid
  g.append("g").selectAll("line").data(p.ticks).join("line")
    .attr("x1", d => x(d)).attr("x2", d => x(d))
    .attr("y1", plotTop).attr("y2", plotBottom)
    .attr("stroke", "#e3e3e3").attr("stroke-width", 0.9);
  g.append("g").selectAll("line").data(depthTicks).join("line")
    .attr("x1", left).attr("x2", left + panelW)
    .attr("y1", d => y(d)).attr("y2", d => y(d))
    .attr("stroke", "#e3e3e3").attr("stroke-width", 0.9);

  // profiles
  const clipId = "clip" + i;
  defs.append("clipPath").attr("id", clipId).append("rect")
    .attr("x", left).attr("y", plotTop).attr("width", panelW).attr("height", plotBottom - plotTop);
  const line = d3.line().x(d => x(d[1])).y(d => y(d[0]));
  g.append("g").attr("clip-path", `url(#${clipId})`)
    .selectAll("path").data(p.profiles).join("path")
    .attr("d", line)
    .attr("fill", "none")
    .attr("stroke", "#000")
    .attr("stroke-opacity", 0.38)
    .attr("stroke-width", 0.9)
    .attr("stroke-linejoin", "round");

  // axes
  const xAxis = d3.axisBottom(x).tickValues(p.ticks).tickFormat(p.fmt).tickSize(4).tickPadding(5);
  const yAxis = d3.axisLeft(y).tickValues(depthTicks).tickFormat(d3.format("d")).tickSize(4).tickPadding(6);
  const gx = g.append("g").attr("transform", `translate(0,${plotBottom})`).call(xAxis);
  const gy = g.append("g").attr("transform", `translate(${left},0)`).call(yAxis);
  [gx, gy].forEach(a => {
    a.select(".domain").remove();
    a.selectAll(".tick line").attr("stroke", "#262626").attr("stroke-width", 1);
    a.selectAll(".tick text").attr("font-family", "DejaVu Sans").attr("font-size", 10.5).attr("fill", "#1a1a1a");
  });

  // frame
  g.append("rect").attr("x", left).attr("y", plotTop).attr("width", panelW).attr("height", plotBottom - plotTop)
    .attr("fill", "none").attr("stroke", "#262626").attr("stroke-width", 1.2);

  // x label
  const lab = g.append("text").attr("x", left + panelW / 2).attr("y", 578)
    .attr("text-anchor", "middle").attr("font-size", 13.5);
  if (p.label === "temp") lab.text("Potential Temperature (°C)");
  if (p.label === "sal") lab.text("Salinity (psu)");
  if (p.label === "chl") lab.text("Chlorphyl");
  if (p.label === "oxy") lab.text("Oxygen");
  if (p.label === "rho") {
    lab.append("tspan").attr("font-style", "italic").text("ρ");
    lab.append("tspan").text(" (kg m");
    lab.append("tspan").attr("dy", -5).attr("font-size", 9.5).text("−3");
    lab.append("tspan").attr("dy", 5).text(")");
  }
});

// depth label
svg.append("text")
  .attr("transform", `translate(19,${(plotTop + plotBottom) / 2}) rotate(-90)`)
  .attr("text-anchor", "middle").attr("font-size", 13.5)
  .text("Depth (m)");
</script>
</body>
</html>
